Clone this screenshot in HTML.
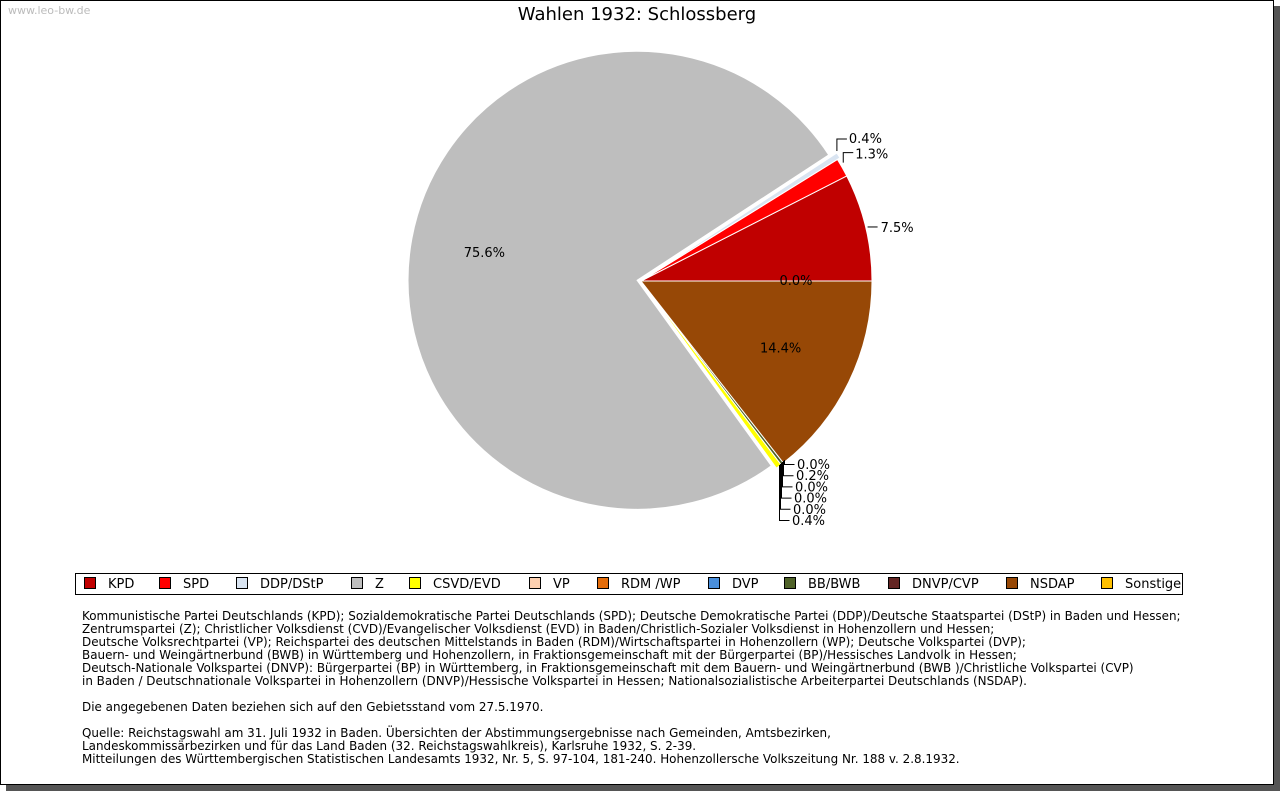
<!DOCTYPE html>
<html><head><meta charset="utf-8"><style>
body{margin:0;width:1280px;height:791px;background:#fff;position:relative;overflow:hidden;font-family:"DejaVu Sans","Liberation Sans",sans-serif}
#frame{position:absolute;left:0;top:0;width:1272px;height:783px;border:1px solid #000;background:#fff;box-shadow:6px 6px 0 #555}
#wm{position:absolute;left:8px;top:4px;font-size:11px;color:#bbb}
#title{position:absolute;left:0;width:1274px;top:4px;text-align:center;font-size:18px;color:#000}
#legend{position:absolute;left:75px;top:573px;width:1106px;height:20px;border:1px solid #000;font-size:13px}
.li{position:absolute;top:3px;white-space:nowrap}
.sw{display:inline-block;width:10px;height:10px;border:1px solid #000;vertical-align:-1px;margin-right:12px}
#notes{position:absolute;left:82px;top:610px;font-size:11.95px;line-height:13px;white-space:pre;color:#000}
svg text{font-family:"DejaVu Sans","Liberation Sans",sans-serif;font-size:13px}
</style></head><body>
<div id="frame"></div>
<div id="wm">www.leo-bw.de</div>
<div id="title">Wahlen 1932: Schlossberg</div>
<svg id="pie" width="1280" height="560" style="position:absolute;left:0;top:0"></svg>
<div id="legend"></div>
<div id="notes">Kommunistische Partei Deutschlands (KPD); Sozialdemokratische Partei Deutschlands (SPD); Deutsche Demokratische Partei (DDP)/Deutsche Staatspartei (DStP) in Baden und Hessen;
Zentrumspartei (Z); Christlicher Volksdienst (CVD)/Evangelischer Volksdienst (EVD) in Baden/Christlich-Sozialer Volksdienst in Hohenzollern und Hessen;
Deutsche Volksrechtpartei (VP); Reichspartei des deutschen Mittelstands in Baden (RDM)/Wirtschaftspartei in Hohenzollern (WP); Deutsche Volkspartei (DVP);
Bauern- und Weingärtnerbund (BWB) in Württemberg und Hohenzollern, in Fraktionsgemeinschaft mit der Bürgerpartei (BP)/Hessisches Landvolk in Hessen;
Deutsch-Nationale Volkspartei (DNVP): Bürgerpartei (BP) in Württemberg, in Fraktionsgemeinschaft mit dem Bauern- und Weingärtnerbund (BWB )/Christliche Volkspartei (CVP)
in Baden / Deutschnationale Volkspartei in Hohenzollern (DNVP)/Hessische Volkspartei in Hessen; Nationalsozialistische Arbeiterpartei Deutschlands (NSDAP).

Die angegebenen Daten beziehen sich auf den Gebietsstand vom 27.5.1970.

Quelle: Reichstagswahl am 31. Juli 1932 in Baden. Übersichten der Abstimmungsergebnisse nach Gemeinden, Amtsbezirken,
Landeskommissärbezirken und für das Land Baden (32. Reichstagswahlkreis), Karlsruhe 1932, S. 2-39.
Mitteilungen des Württembergischen Statistischen Landesamts 1932, Nr. 5, S. 97-104, 181-240. Hohenzollersche Volkszeitung Nr. 188 v. 2.8.1932.</div>
<script>
const parties=["KPD","SPD","DDP/DStP","Z","CSVD/EVD","VP","RDM /WP","DVP","BB/BWB","DNVP/CVP","NSDAP","Sonstige"];
const values=[7.5,1.3,0.4,75.6,0.4,0.0,0.0,0.0,0.2,0.0,14.4,0.0];
const colors=["#c00000","#ff0000","#d9e4f1","#bebebe","#ffff00","#fdd0b0","#e36c0a","#4a8fdc","#4f6228","#632523","#974806","#ffc000"];
const legendX=[8,83,160,275,333,453,521,632,708,812,930,1025];
const NS="http://www.w3.org/2000/svg";
const svg=document.getElementById('pie');
const cx=641,cy=281,R=231;
const total=values.reduce((a,b)=>a+b,0);
function pt(c,r,a){return [c[0]+r*Math.cos(a),c[1]-r*Math.sin(a)];}
let acc=0;
const angles=[];
values.forEach((v,i)=>{
  const a0=acc/total*2*Math.PI; acc+=v; const a1=acc/total*2*Math.PI;
  angles.push([a0,a1]);
  if(v<=0) return;
  const mid=(a0+a1)/2;
  const off=(parties[i]==="Z")?4:(parties[i]==="DDP/DStP"?3:0);
  const r=(parties[i]==="Z")?229:R;
  const c=[cx+off*Math.cos(mid),cy-off*Math.sin(mid)];
  const p0=pt(c,r,a0),p1=pt(c,r,a1);
  const large=(a1-a0)>Math.PI?1:0;
  const p=document.createElementNS(NS,'path');
  p.setAttribute('d',`M${c[0]},${c[1]} L${p0[0]},${p0[1]} A${r},${r} 0 ${large} 0 ${p1[0]},${p1[1]} Z`);
  p.setAttribute('fill',colors[i]);p.setAttribute('stroke','#fff');p.setAttribute('stroke-width','1');
  
  
  svg.appendChild(p);
});
function txt(x,y,s,anchor){const t=document.createElementNS(NS,'text');t.setAttribute('x',x);t.setAttribute('y',y);t.setAttribute('text-anchor',anchor||'start');t.textContent=s;


svg.appendChild(t);}
function line(d){const l=document.createElementNS(NS,'path');l.setAttribute('d',d);l.setAttribute('fill','none');l.setAttribute('stroke','#000');l.setAttribute('stroke-width','1');


svg.appendChild(l);}
function fmt(v){return v.toFixed(1)+'%';}
values.forEach((v,i)=>{
  const [a0,a1]=angles[i];const mid=(a0+a1)/2;
  if(parties[i]==="Z"){const p=pt([cx,cy],0.6*R,mid);txt(p[0]-41,p[1]+1,fmt(v));}
  else if(parties[i]==="NSDAP"){const p=pt([cx,cy],0.6*R,mid);txt(p[0]+15,p[1]+11,fmt(v),'middle');}
  else if(parties[i]==="KPD"){const p=pt([cx,cy],R,mid);line(`M${p[0]+2},${p[1]} h10`);txt(p[0]+15,p[1]+5,fmt(v));}
  else if(parties[i]==="Sonstige"){txt(cx+155,cy+4,fmt(v),'middle');}
});
{const p=pt([cx,cy],R,(angles[1][0]+angles[1][1])/2);line(`M${p[0]+1},${p[1]-5} v-10 h10`);txt(p[0]+13,p[1]-9,fmt(values[1]));}
{const p=pt([cx,cy],R,(angles[2][0]+angles[2][1])/2);line(`M${p[0]+1},${p[1]-6} v-12 h10`);txt(p[0]+13,p[1]-14,fmt(values[2]));}
const bottomIdx=[9,8,7,6,5,4];
bottomIdx.forEach((idx,k)=>{
  const y=464+k*11.2, x0=784-k*1;
  line(`M${x0+0.5},${460+k} V${y+0.5} h10`);
  txt(x0+13,y+5,fmt(values[idx]));
});
const lg=document.getElementById('legend');
parties.forEach((p,i)=>{
  const d=document.createElement('span');d.className='li';d.style.left=legendX[i]+'px';
  
  
  d.innerHTML=`<span class="sw" style="background:${colors[i]}"></span>${p}`;
  lg.appendChild(d);
});
</script>
</body></html>
